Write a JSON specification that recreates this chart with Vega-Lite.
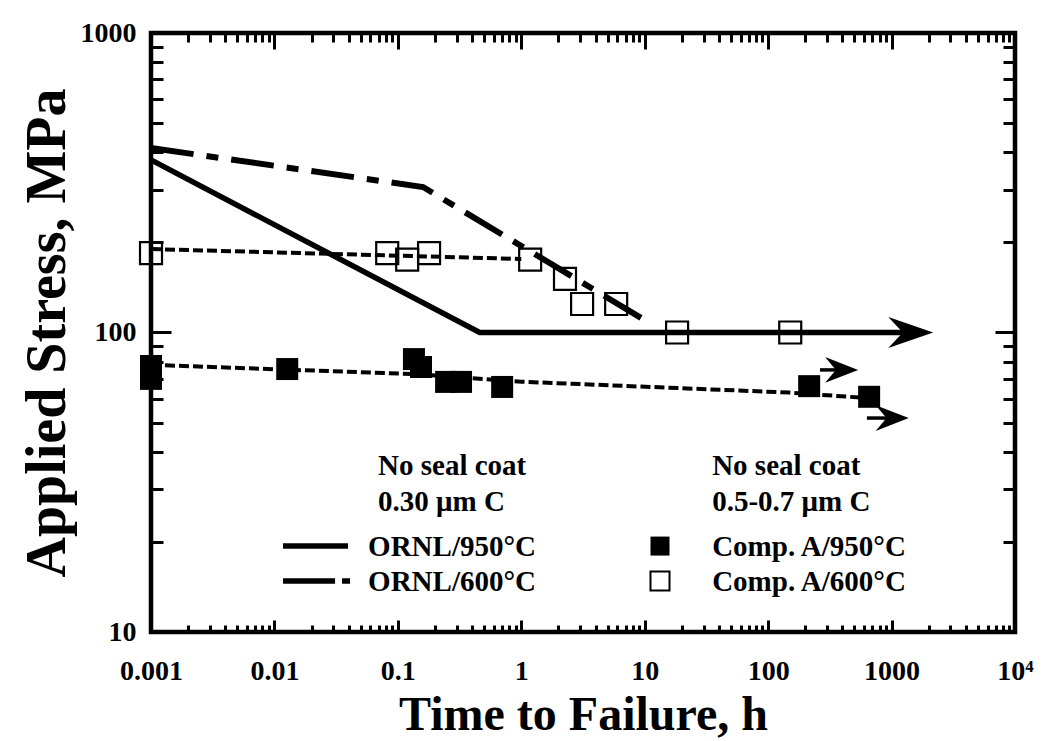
{
  "$schema": "https://vega.github.io/schema/vega-lite/v6.json",
  "width": 864,
  "height": 599,
  "autosize": "none",
  "padding": {"left": 151, "top": 33, "right": 33, "bottom": 109},
  "background": "white",
  "config": {
    "view": {"stroke": "black", "strokeWidth": 4.5},
    "axis": {"grid": false, "labelFont": "Liberation Serif", "titleFont": "Liberation Serif", "labelColor": "black", "titleColor": "black", "tickColor": "black", "domainColor": "black"}
  },
  "datasets": {
    "solid": [
      {"series": "ORNL950", "t": 0.001, "s": 377},
      {"series": "ORNL950", "t": 0.46, "s": 100},
      {"series": "ORNL950", "t": 1430, "s": 100},
      {"series": "leg950", "t": 0.01174, "s": 19.36},
      {"series": "leg950", "t": 0.0395, "s": 19.36},
      {"series": "leg600a", "t": 0.01174, "s": 14.8},
      {"series": "leg600a", "t": 0.031, "s": 14.8},
      {"series": "leg600b", "t": 0.0353, "s": 14.8},
      {"series": "leg600b", "t": 0.041, "s": 14.8}
    ],
    "dashdot": [
      {"series": "ORNL600", "t": 0.001, "s": 413},
      {"series": "ORNL600", "t": 0.16, "s": 306},
      {"series": "ORNL600", "t": 10, "s": 110}
    ],
    "dashed": [
      {"series": "open", "t": 0.001, "s": 190},
      {"series": "open", "t": 1.0, "s": 176},
      {"series": "filled", "t": 0.001, "s": 78},
      {"series": "filled", "t": 0.15, "s": 72.5},
      {"series": "filled", "t": 1, "s": 68.5},
      {"series": "filled", "t": 150, "s": 63},
      {"series": "filled", "t": 600, "s": 60.5}
    ],
    "shafts": [
      {"series": "a1", "t": 263, "s": 75},
      {"series": "a1", "t": 394, "s": 75},
      {"series": "a2", "t": 631, "s": 51.8},
      {"series": "a2", "t": 1012, "s": 51.8}
    ],
    "openSq": [
      {"t": 0.001, "s": 184},
      {"t": 0.082, "s": 184},
      {"t": 0.119, "s": 175},
      {"t": 0.179, "s": 184},
      {"t": 1.18, "s": 175},
      {"t": 2.26, "s": 151},
      {"t": 3.11, "s": 124.5},
      {"t": 5.87, "s": 124.5},
      {"t": 18.3, "s": 100},
      {"t": 151, "s": 100}
    ],
    "filledSq": [
      {"t": 0.001, "s": 77.3},
      {"t": 0.001, "s": 70},
      {"t": 0.0127, "s": 75.5},
      {"t": 0.135, "s": 81.5},
      {"t": 0.154, "s": 76.7},
      {"t": 0.246, "s": 68.4},
      {"t": 0.325, "s": 68.4},
      {"t": 0.7, "s": 65.8},
      {"t": 215, "s": 66.2},
      {"t": 658, "s": 61}
    ],
    "legFilled": [{"t": 13.3, "s": 19.36}],
    "legOpen": [{"t": 13.3, "s": 14.8}],
    "headBig": [{"t": 1430, "s": 100}],
    "headSmall": [{"t": 394, "s": 75}, {"t": 1012, "s": 51.8}],
    "labels": [
      {"t": 0.0691, "s": 33.4, "text": "No seal coat"},
      {"t": 0.0691, "s": 25.35, "text": "0.30 μm C"},
      {"t": 0.0574, "s": 17.94, "text": "ORNL/950°C"},
      {"t": 0.0574, "s": 13.71, "text": "ORNL/600°C"},
      {"t": 35.2, "s": 33.4, "text": "No seal coat"},
      {"t": 35.2, "s": 25.35, "text": "0.5-0.7 μm C"},
      {"t": 35.2, "s": 17.94, "text": "Comp. A/950°C"},
      {"t": 35.2, "s": 13.71, "text": "Comp. A/600°C"}
    ]
  },
  "encoding": {
    "x": {"field": "t", "type": "quantitative", "scale": {"type": "log", "domain": [0.001, 10000], "nice": false}, "axis": null},
    "y": {"field": "s", "type": "quantitative", "scale": {"type": "log", "domain": [10, 1000], "nice": false}, "axis": null}
  },
  "layer": [
    {
      "data": {"name": "solid"},
      "mark": {"type": "line", "color": "black", "strokeWidth": 5.5},
      "encoding": {
        "detail": {"field": "series"},
        "x": {"field": "t", "type": "quantitative", "scale": {"type": "log", "domain": [0.001, 10000], "nice": false},
          "axis": {"orient": "bottom", "values": [0.001, 0.01, 0.1, 1, 10, 100, 1000, 10000], "ticks": false, "domain": false,
            "labelExpr": "datum.value > 5000 ? '10⁴' : format(datum.value, '~g')", "labelFontSize": 28, "labelFontWeight": "bold",
            "labelPadding": 25, "labelFlush": false, "labelOverlap": false,
            "title": "Time to Failure, h", "titleFontSize": 48, "titleFontWeight": "bold", "titlePadding": 6}},
        "y": {"field": "s", "type": "quantitative", "scale": {"type": "log", "domain": [10, 1000], "nice": false},
          "axis": {"orient": "left", "values": [10, 100, 1000], "ticks": false, "domain": false, "format": "~g",
            "labelFontSize": 28, "labelFontWeight": "bold", "labelPadding": 15, "labelFlush": false, "labelOverlap": false,
            "title": "Applied Stress, MPa", "titleFontSize": 56, "titleFontWeight": "bold", "titlePadding": 4}}
      }
    },
    {
      "data": {"name": "dashdot"},
      "mark": {"type": "line", "color": "black", "strokeWidth": 6, "strokeDash": [43, 13, 12, 13]},
      "encoding": {
        "x": {"field": "t", "type": "quantitative", "scale": {"type": "log", "domain": [0.001, 10000], "nice": false},
          "axis": {"orient": "bottom", "values": [0.001, 0.01, 0.1, 1, 10, 100, 1000, 10000], "labels": false, "domain": false, "ticks": true, "tickSize": -12, "tickWidth": 3, "title": null}},
        "y": {"field": "s", "type": "quantitative", "scale": {"type": "log", "domain": [10, 1000], "nice": false},
          "axis": {"orient": "left", "values": [10, 100, 1000], "labels": false, "domain": false, "ticks": true, "tickSize": -20, "tickWidth": 3, "title": null}}
      }
    },
    {
      "data": {"name": "dashed"},
      "mark": {"type": "line", "color": "black", "strokeWidth": 4, "strokeDash": [10, 4]},
      "encoding": {
        "detail": {"field": "series"},
        "x": {"field": "t", "type": "quantitative", "scale": {"type": "log", "domain": [0.001, 10000], "nice": false},
          "axis": {"orient": "bottom", "values": [0.002,0.003,0.004,0.005,0.006,0.007,0.008,0.009,0.02,0.03,0.04,0.05,0.06,0.07,0.08,0.09,0.2,0.3,0.4,0.5,0.6,0.7,0.8,0.9,2,3,4,5,6,7,8,9,20,30,40,50,60,70,80,90,200,300,400,500,600,700,800,900,2000,3000,4000,5000,6000,7000,8000,9000], "labels": false, "domain": false, "ticks": true, "tickSize": -7, "tickWidth": 3, "title": null}},
        "y": {"field": "s", "type": "quantitative", "scale": {"type": "log", "domain": [10, 1000], "nice": false},
          "axis": {"orient": "left", "values": [20,30,40,50,60,70,80,90,200,300,400,500,600,700,800,900], "labels": false, "domain": false, "ticks": true, "tickSize": -12, "tickWidth": 3, "title": null}}
      }
    },
    {
      "data": {"name": "openSq"},
      "mark": {"type": "point", "shape": "square", "filled": false, "stroke": "black", "strokeWidth": 2.2, "size": 484, "opacity": 1},
      "encoding": {
        "x": {"field": "t", "type": "quantitative", "scale": {"type": "log", "domain": [0.001, 10000], "nice": false},
          "axis": {"orient": "top", "values": [0.001, 0.01, 0.1, 1, 10, 100, 1000, 10000], "labels": false, "domain": false, "ticks": true, "tickSize": -16, "tickWidth": 3, "title": null}},
        "y": {"field": "s", "type": "quantitative", "scale": {"type": "log", "domain": [10, 1000], "nice": false},
          "axis": {"orient": "right", "values": [10, 100, 1000], "labels": false, "domain": false, "ticks": true, "tickSize": -20, "tickWidth": 3, "title": null}}
      }
    },
    {
      "data": {"name": "filledSq"},
      "mark": {"type": "point", "shape": "square", "filled": true, "color": "black", "size": 484, "opacity": 1},
      "encoding": {
        "x": {"field": "t", "type": "quantitative", "scale": {"type": "log", "domain": [0.001, 10000], "nice": false},
          "axis": {"orient": "top", "values": [0.002,0.003,0.004,0.005,0.006,0.007,0.008,0.009,0.02,0.03,0.04,0.05,0.06,0.07,0.08,0.09,0.2,0.3,0.4,0.5,0.6,0.7,0.8,0.9,2,3,4,5,6,7,8,9,20,30,40,50,60,70,80,90,200,300,400,500,600,700,800,900,2000,3000,4000,5000,6000,7000,8000,9000], "labels": false, "domain": false, "ticks": true, "tickSize": -9, "tickWidth": 3, "title": null}},
        "y": {"field": "s", "type": "quantitative", "scale": {"type": "log", "domain": [10, 1000], "nice": false},
          "axis": {"orient": "right", "values": [20,30,40,50,60,70,80,90,200,300,400,500,600,700,800,900], "labels": false, "domain": false, "ticks": true, "tickSize": -12, "tickWidth": 3, "title": null}}
      }
    },
    {
      "data": {"name": "shafts"},
      "mark": {"type": "line", "color": "black", "strokeWidth": 3.5},
      "encoding": {"detail": {"field": "series"}}
    },
    {
      "data": {"name": "headBig"},
      "mark": {"type": "point", "shape": "M1,0 L-1,-0.69 L-0.35,0 L-1,0.69 Z", "filled": true, "color": "black", "size": 2025, "opacity": 1}
    },
    {
      "data": {"name": "headSmall"},
      "mark": {"type": "point", "shape": "M1,0 L-1,-0.78 L-0.35,0 L-1,0.78 Z", "filled": true, "color": "black", "size": 1089, "opacity": 1}
    },
    {
      "data": {"name": "legFilled"},
      "mark": {"type": "point", "shape": "square", "filled": true, "color": "black", "size": 361, "opacity": 1}
    },
    {
      "data": {"name": "legOpen"},
      "mark": {"type": "point", "shape": "square", "filled": false, "stroke": "black", "strokeWidth": 2, "size": 361, "opacity": 1}
    },
    {
      "data": {"name": "labels"},
      "mark": {"type": "text", "align": "left", "baseline": "alphabetic", "font": "Liberation Serif", "fontWeight": "bold", "fontSize": 29, "color": "black"},
      "encoding": {"text": {"field": "text"}}
    }
  ],
  "resolve": {"axis": {"x": "independent", "y": "independent"}}
}
